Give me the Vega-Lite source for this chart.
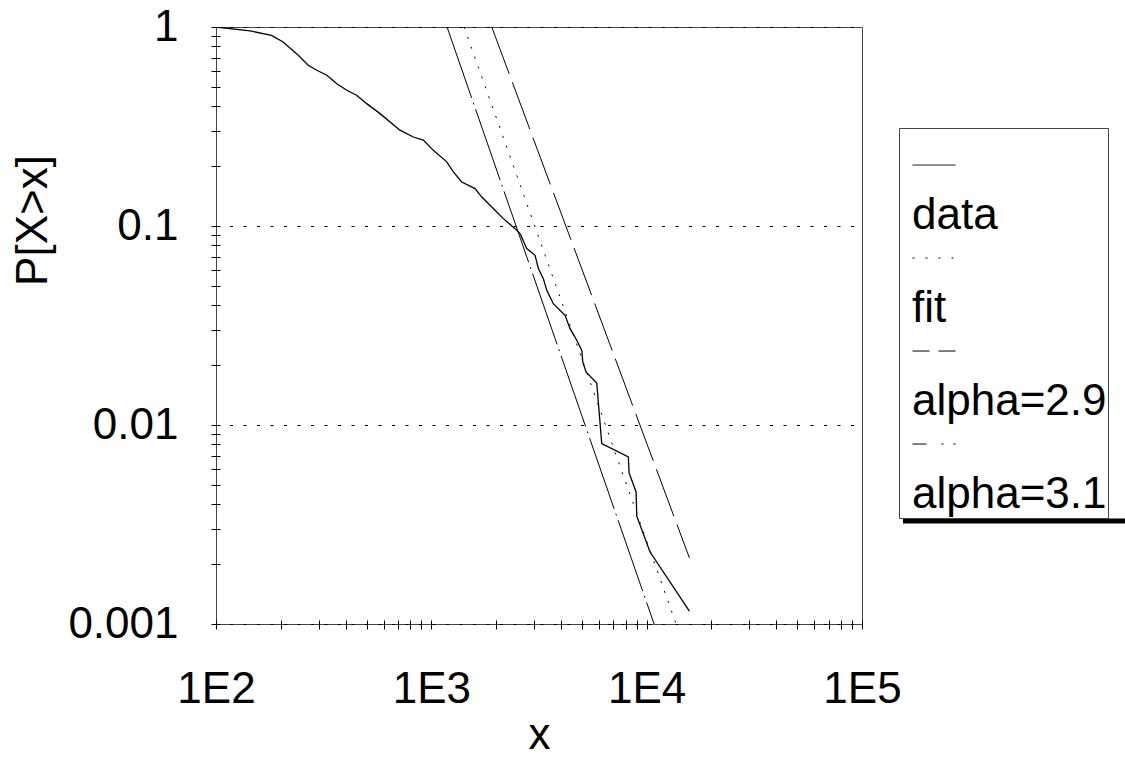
{
  "$schema": "https://vega.github.io/schema/vega-lite/v6.json",
  "width": 646,
  "height": 597,
  "autosize": {"type": "none"},
  "padding": {"left": 216, "top": 27, "right": 263, "bottom": 133},
  "background": "white",
  "config": {
    "view": {"stroke": "#444", "strokeWidth": 1},
    "font": "Liberation Sans"
  },
  "data": {
    "values": [
      {"series": "data", "x": 100, "p": 1},
      {"series": "data", "x": 144, "p": 0.955},
      {"series": "data", "x": 181, "p": 0.908},
      {"series": "data", "x": 205, "p": 0.841},
      {"series": "data", "x": 241, "p": 0.721},
      {"series": "data", "x": 268, "p": 0.642},
      {"series": "data", "x": 294, "p": 0.606},
      {"series": "data", "x": 327, "p": 0.572},
      {"series": "data", "x": 364, "p": 0.519},
      {"series": "data", "x": 405, "p": 0.481},
      {"series": "data", "x": 450, "p": 0.454},
      {"series": "data", "x": 501, "p": 0.412},
      {"series": "data", "x": 578, "p": 0.367},
      {"series": "data", "x": 715, "p": 0.303},
      {"series": "data", "x": 825, "p": 0.28},
      {"series": "data", "x": 918, "p": 0.27},
      {"series": "data", "x": 1022, "p": 0.24},
      {"series": "data", "x": 1179, "p": 0.21},
      {"series": "data", "x": 1266, "p": 0.187},
      {"series": "data", "x": 1384, "p": 0.1664},
      {"series": "data", "x": 1596, "p": 0.1541},
      {"series": "data", "x": 1715, "p": 0.1398},
      {"series": "data", "x": 1908, "p": 0.1246},
      {"series": "data", "x": 2160, "p": 0.1089},
      {"series": "data", "x": 2448, "p": 0.097},
      {"series": "data", "x": 2582, "p": 0.0916},
      {"series": "data", "x": 2774, "p": 0.077},
      {"series": "data", "x": 3032, "p": 0.0712},
      {"series": "data", "x": 3141, "p": 0.0611},
      {"series": "data", "x": 3313, "p": 0.0544},
      {"series": "data", "x": 3436, "p": 0.0475},
      {"series": "data", "x": 3687, "p": 0.0407},
      {"series": "data", "x": 4178, "p": 0.0356},
      {"series": "data", "x": 4408, "p": 0.0305},
      {"series": "data", "x": 4735, "p": 0.02665},
      {"series": "data", "x": 4996, "p": 0.0237},
      {"series": "data", "x": 5050, "p": 0.0207},
      {"series": "data", "x": 5229, "p": 0.01846},
      {"series": "data", "x": 5864, "p": 0.01626},
      {"series": "data", "x": 6186, "p": 0.00806},
      {"series": "data", "x": 8222, "p": 0.00691},
      {"series": "data", "x": 8286, "p": 0.00574},
      {"series": "data", "x": 8930, "p": 0.00461},
      {"series": "data", "x": 8995, "p": 0.00348},
      {"series": "data", "x": 10370, "p": 0.0023},
      {"series": "data", "x": 15790, "p": 0.00116},
      {"series": "fit", "x": 1419, "p": 1},
      {"series": "fit", "x": 13700, "p": 0.001},
      {"series": "alpha=2.9", "x": 1908, "p": 1},
      {"series": "alpha=2.9", "x": 15790, "p": 0.00215},
      {"series": "alpha=3.1", "x": 1183, "p": 1},
      {"series": "alpha=3.1", "x": 10825, "p": 0.001}
    ]
  },
  "encoding": {
    "x": {
      "field": "x",
      "type": "quantitative",
      "scale": {"type": "log", "domain": [100, 100000], "nice": false},
      "axis": {
        "title": "x",
        "values": [100, 200, 300, 400, 500, 600, 700, 800, 900, 1000, 2000, 3000, 4000, 5000, 6000, 7000, 8000, 9000, 10000, 20000, 30000, 40000, 50000, 60000, 70000, 80000, 90000, 100000],
        "labelExpr": "abs(log(datum.value)/LN10 - round(log(datum.value)/LN10)) < 0.001 ? '1E' + round(log(datum.value)/LN10) : ''",
        "grid": false,
        "domain": false,
        "offset": -4,
        "tickSize": 9,
        "tickColor": "black",
        "tickWidth": 1,
        "labelFont": "Liberation Sans",
        "labelFontSize": 44,
        "labelColor": "black",
        "labelPadding": 38,
        "labelFlush": false,
        "labelOverlap": false,
        "labelBound": false,
        "titleFont": "Liberation Sans",
        "titleFontSize": 44,
        "titleFontWeight": "normal",
        "titleColor": "black",
        "titlePadding": 2
      }
    },
    "y": {
      "field": "p",
      "type": "quantitative",
      "scale": {"type": "log", "domain": [0.001, 1], "nice": false},
      "axis": {
        "title": "P[X>x]",
        "values": [0.001, 0.002, 0.003, 0.004, 0.005, 0.006, 0.007, 0.008, 0.009, 0.01, 0.02, 0.03, 0.04, 0.05, 0.06, 0.07, 0.08, 0.09, 0.1, 0.2, 0.3, 0.4, 0.5, 0.6, 0.7, 0.8, 0.9, 1],
        "labelExpr": "abs(log(datum.value)/LN10 - round(log(datum.value)/LN10)) < 0.001 ? '' + datum.value : ''",
        "grid": true,
        "gridColor": "black",
        "gridDash": [3, 10.5],
        "gridWidth": 1,
        "gridOpacity": {"condition": {"test": "abs(log(datum.value)/LN10 - round(log(datum.value)/LN10)) < 0.001", "value": 1}, "value": 0},
        "domain": false,
        "offset": -4,
        "tickSize": 9,
        "tickColor": "black",
        "tickWidth": 1,
        "labelFont": "Liberation Sans",
        "labelFontSize": 44,
        "labelColor": "black",
        "labelPadding": 33,
        "labelFlush": false,
        "labelOverlap": false,
        "labelBound": false,
        "titleFont": "Liberation Sans",
        "titleFontSize": 44,
        "titleFontWeight": "normal",
        "titleColor": "black",
        "titlePadding": 12,
        "titleY": 193
      }
    }
  },
  "layer": [
    {
      "transform": [{"filter": "datum.series === 'data'"}],
      "mark": {"type": "line", "color": "black", "strokeWidth": 1.3, "clip": true}
    },
    {
      "transform": [{"filter": "datum.series === 'fit'"}],
      "mark": {"type": "line", "color": "black", "strokeWidth": 1, "strokeDash": [2, 8.5], "clip": true}
    },
    {
      "transform": [{"filter": "datum.series === 'alpha=2.9'"}],
      "mark": {"type": "line", "color": "black", "strokeWidth": 1, "strokeDash": [50, 9], "clip": true}
    },
    {
      "transform": [{"filter": "datum.series === 'alpha=3.1'"}],
      "mark": {"type": "line", "color": "black", "strokeWidth": 1, "strokeDash": [75, 5, 2, 5], "clip": true}
    },
    {
      "mark": {"type": "point", "opacity": 0, "clip": true},
      "encoding": {
        "stroke": {
          "field": "p",
          "type": "quantitative",
          "scale": {"type": "linear", "range": ["black", "black"]},
          "legend": {
            "orient": "none",
            "direction": "horizontal",
            "legendX": 687,
            "legendY": 491.5,
            "title": null,
            "padding": 0,
            "gradientLength": 260,
            "gradientThickness": 5,
            "gradientStrokeWidth": 0,
            "labelExpr": "''",
            "labelFontSize": 1,
            "labelPadding": 0
          }
        }
      }
    },
    {
      "mark": {"type": "line", "color": "black", "strokeWidth": 1, "opacity": 0, "clip": true},
      "encoding": {
        "strokeDash": {
          "field": "series",
          "type": "nominal",
          "scale": {
            "domain": ["data", "fit", "alpha=2.9", "alpha=3.1"],
            "range": [[1, 0], [2, 11], [17, 9], [14, 15, 2, 10, 2, 100]]
          },
          "legend": {
            "orient": "none",
            "legendX": 683,
            "legendY": 101,
            "title": " ",
            "titleFontSize": 44,
            "titlePadding": 21,
            "padding": 1,
            "strokeColor": "#444",
            "fillColor": "white",
            "symbolType": "M 0 -3.81 M -1 -2.37 L 1 -2.37",
            "symbolSize": 1849,
            "symbolStrokeWidth": 1,
            "symbolStrokeColor": "black",
            "symbolFillColor": "transparent",
            "symbolOffset": 12,
            "labelOffset": -44,
            "labelFont": "Liberation Sans",
            "labelFontSize": 44,
            "labelColor": "black",
            "labelLimit": 600,
            "rowPadding": -13
          }
        }
      }
    }
  ]
}
